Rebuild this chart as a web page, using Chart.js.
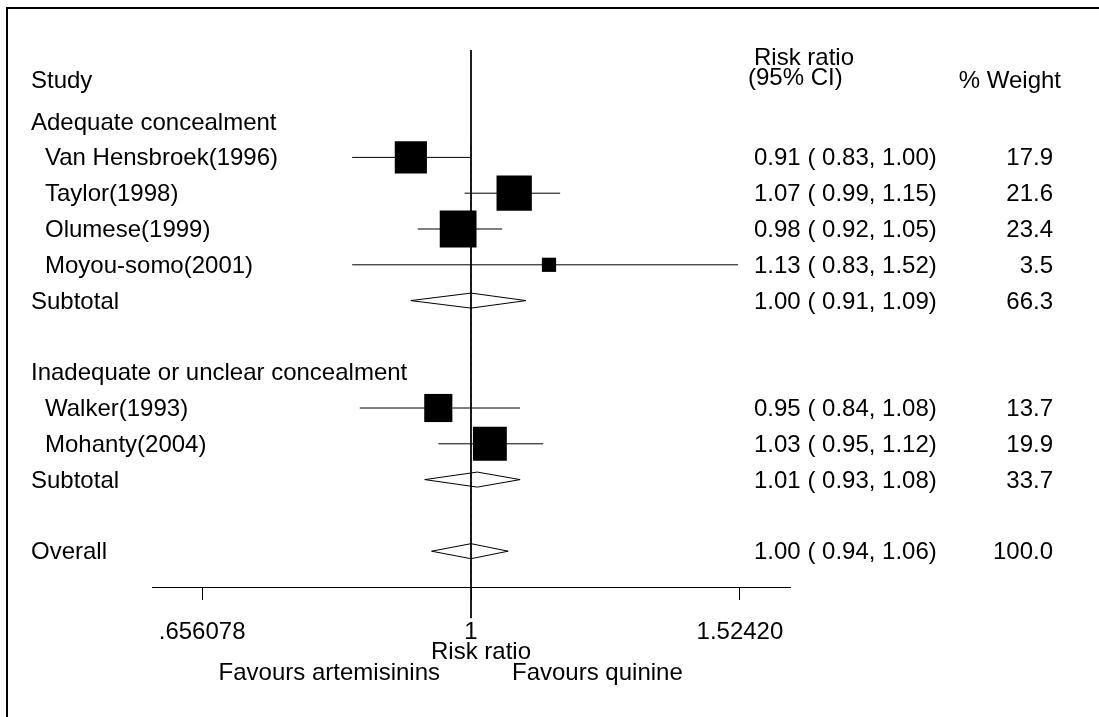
<!DOCTYPE html>
<html>
<head>
<meta charset="utf-8">
<title>Risk ratio forest plot</title>
<script src="https://cdn.jsdelivr.net/npm/chart.js@4/dist/chart.umd.min.js"></script>
<style>
  html, body { margin: 0; padding: 0; background: #fff; }
  canvas { display: block; }
</style>
</head>
<body>
<canvas id="forest" width="1099" height="717"></canvas>
<script>
// Individual trials
const studyNames = ["Van Hensbroek(1996)", "Taylor(1998)", "Olumese(1999)", "Moyou-somo(2001)", "Walker(1993)", "Mohanty(2004)"];
const studyRR = [0.91, 1.07, 0.98, 1.13, 0.95, 1.03];
const studyLow = [0.83, 0.99, 0.92, 0.83, 0.84, 0.95];
const studyHigh = [1.00, 1.15, 1.05, 1.52, 1.08, 1.12];
const studyWeight = [17.9, 21.6, 23.4, 3.5, 13.7, 19.9];
const studyRows = [0, 1, 2, 3, 7, 8];

// Pooled estimates (subgroups + overall)
const pooledNames = ["Subtotal", "Subtotal", "Overall"];
const pooledRR = [1.00, 1.01, 1.00];
const pooledLow = [0.91, 0.93, 0.94];
const pooledHigh = [1.09, 1.08, 1.06];
const pooledWeight = [66.3, 33.7, 100.0];
const pooledRows = [4, 9, 11];

// Subgroup headings
const groupNames = ["Adequate concealment", "Inadequate or unclear concealment"];
const groupRows = [-1, 6];

// x axis
const xTicks = [0.656078, 1, 1.52420];
const xTickLabels = [".656078", "1", "1.52420"];

const FONT = "24px 'Liberation Sans', Arial, sans-serif";
Chart.defaults.font.family = "'Liberation Sans', Arial, sans-serif";
Chart.defaults.font.size = 24;
Chart.defaults.color = "#000";

const fmt = (v) => v.toFixed(2);

// boxes sized by weight
const boxes = {
  type: "scatter",
  data: studyRR.map((v, i) => ({ x: v, y: studyRows[i] })),
  pointStyle: "rect",
  pointRadius: studyWeight.map((w) => (7.6 * Math.sqrt(w)) / Math.SQRT2),
  backgroundColor: "#000",
  borderColor: "#000",
  borderWidth: 0,
};

const ciLines = studyRR.map((v, i) => ({
  type: "line",
  data: [
    { x: studyLow[i], y: studyRows[i] },
    { x: studyHigh[i], y: studyRows[i] },
  ],
  borderColor: "#000",
  borderWidth: 1,
  pointRadius: 0,
}));

const DIAMOND_H = 0.21;
const diamonds = pooledRR.map((v, i) => {
  const r = pooledRows[i];
  return {
    type: "line",
    data: [
      { x: pooledLow[i], y: r },
      { x: v, y: r - DIAMOND_H },
      { x: pooledHigh[i], y: r },
      { x: v, y: r + DIAMOND_H },
      { x: pooledLow[i], y: r },
    ],
    borderColor: "#000",
    borderWidth: 1,
    pointRadius: 0,
    fill: false,
  };
});

const overallIdx = pooledNames.length - 1;
const overallLine = {
  type: "line",
  data: [
    { x: pooledRR[overallIdx], y: -0.33 },
    { x: pooledRR[overallIdx], y: 12 },
  ],
  borderColor: "#666",
  borderWidth: 1,
  borderDash: [5, 3],
  pointRadius: 0,
};

const nullLine = {
  type: "line",
  data: [
    { x: 1, y: -3 },
    { x: 1, y: 12.87 },
  ],
  borderColor: "#000",
  borderWidth: 1,
  pointRadius: 0,
  clip: false,
};

// table text, frame and bottom captions
const tablePlugin = {
  id: "forestTable",
  beforeDraw(chart) {
    const ctx = chart.ctx;
    ctx.save();
    ctx.fillStyle = "#fff";
    ctx.fillRect(0, 0, chart.width, chart.height);
    ctx.strokeStyle = "#000";
    ctx.lineWidth = 2;
    ctx.beginPath();
    ctx.moveTo(7, chart.height);
    ctx.lineTo(7, 8);
    ctx.lineTo(chart.width, 8);
    ctx.stroke();
    ctx.restore();
  },
  afterDraw(chart) {
    const ctx = chart.ctx;
    const y = chart.scales.y;
    const area = chart.chartArea;
    const base = (row) => y.getPixelForValue(row) + 8;

    ctx.save();
    ctx.font = FONT;
    ctx.fillStyle = "#000";
    ctx.textBaseline = "alphabetic";

    // headings
    ctx.textAlign = "left";
    ctx.fillText("Study", 31, base(-2.16));
    ctx.fillText("Risk ratio", 754, base(-2.8));
    ctx.fillText("(95% CI)", 748, base(-2.25));
    ctx.textAlign = "right";
    ctx.fillText("% Weight", 1061, base(-2.16));

    ctx.textAlign = "left";
    groupNames.forEach((g, i) => ctx.fillText(g, 31, base(groupRows[i])));

    studyNames.forEach((name, i) => {
      const b = base(studyRows[i]);
      ctx.textAlign = "left";
      ctx.fillText(name, 45, b);
      ctx.fillText(`${fmt(studyRR[i])} ( ${fmt(studyLow[i])}, ${fmt(studyHigh[i])})`, 754, b);
      ctx.textAlign = "right";
      ctx.fillText(studyWeight[i].toFixed(1), 1053, b);
    });

    pooledNames.forEach((name, i) => {
      const b = base(pooledRows[i]);
      ctx.textAlign = "left";
      ctx.fillText(name, 31, b);
      ctx.fillText(`${fmt(pooledRR[i])} ( ${fmt(pooledLow[i])}, ${fmt(pooledHigh[i])})`, 754, b);
      ctx.textAlign = "right";
      ctx.fillText(pooledWeight[i].toFixed(1), 1053, b);
    });

    // captions under the axis
    ctx.textAlign = "center";
    ctx.fillText("Risk ratio", 481, area.bottom + 72);
    ctx.textAlign = "right";
    ctx.fillText("Favours artemisinins", 440, area.bottom + 93);
    ctx.textAlign = "left";
    ctx.fillText("Favours quinine", 512, area.bottom + 93);
    ctx.restore();
  },
};

new Chart(document.getElementById("forest"), {
  data: {
    datasets: [boxes, ...diamonds, ...ciLines, nullLine, overallLine],
  },
  options: {
    responsive: false,
    animation: false,
    events: [],
    layout: { padding: { left: 152, right: 309, top: 50, bottom: 0 } },
    plugins: {
      legend: { display: false },
      tooltip: { enabled: false },
    },
    scales: {
      x: {
        type: "logarithmic",
        min: 0.6065,
        max: 1.6487,
        bounds: "data",
        afterBuildTicks: (axis) => {
          axis.ticks = xTicks.map((v) => ({ value: v }));
        },
        afterFit: (axis) => {
          axis.height = 130;
        },
        ticks: {
          autoSkip: false,
          maxRotation: 0,
          padding: 18,
          color: "#000",
          callback: (value, index) => xTickLabels[index],
        },
        grid: {
          drawOnChartArea: false,
          drawTicks: true,
          tickLength: 13,
          color: "#000",
          lineWidth: 1,
        },
        border: { display: true, color: "#000", width: 1 },
      },
      y: {
        type: "linear",
        reverse: true,
        min: -3,
        max: 12,
        display: false,
      },
    },
  },
  plugins: [tablePlugin],
});
</script>
</body>
</html>
